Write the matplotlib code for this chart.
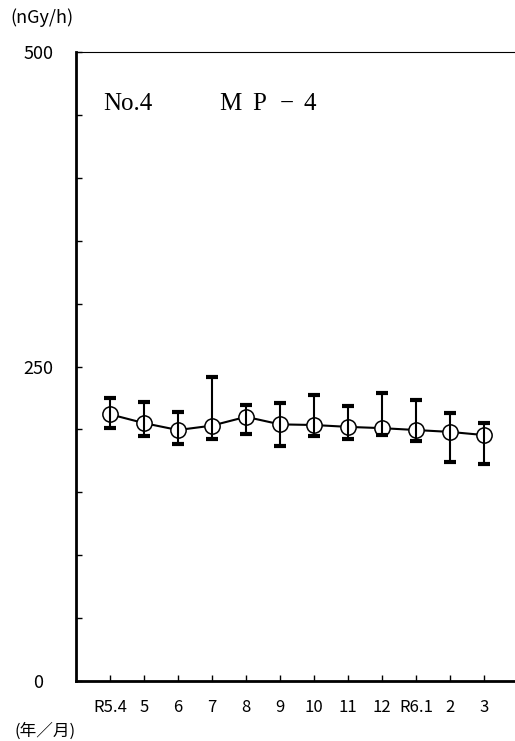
import matplotlib.pyplot as plt
import numpy as np

plt.rcParams['font.family'] = ['Noto Sans CJK JP', 'DejaVu Sans']

months = ["R5.4", "5", "6", "7", "8", "9", "10", "11", "12", "R6.1", "2", "3"]
mean_dose = [212, 205, 199.5, 203, 210, 204, 203.5, 202, 201, 199.5, 198, 195.5]
max_dose = [225, 222, 214, 242, 219, 221, 227, 218.5, 229, 223, 213, 205]
min_dose = [201, 195, 188, 192, 196, 187, 195, 192, 195.5, 191, 174, 172.5]

x = np.arange(1, len(months) + 1)
mean = np.array(mean_dose)
yerr = np.vstack([mean - np.array(min_dose), np.array(max_dose) - mean])

fig = plt.figure(figsize=(5.15, 7.41), dpi=100)
ax = fig.add_axes([76 / 515, 60 / 741, 442 / 515, 629 / 741])

ax.errorbar(x, mean, yerr=yerr, fmt="none", ecolor="black", elinewidth=1.5,
            capsize=4.5, capthick=3, zorder=4)
ax.plot(x, mean, "-o", color="black", lw=1.5, ms=11, mfc="white",
        mec="black", mew=1.1, zorder=3)

ax.set_xlim(0, 13)
ax.set_ylim(0, 500)

ax.set_yticks(np.arange(0, 501, 50))
ax.set_yticklabels(["0" if v == 0 else (str(v) if v in (250, 500) else "")
                    for v in range(0, 501, 50)], fontsize=13)
for lab in ax.get_yticklabels():
    lab.set_horizontalalignment("center")
ax.tick_params(axis="y", direction="in", length=4, width=1, pad=27)

ax.set_xticks(x)
ax.set_xticklabels(months, fontsize=12)
ax.tick_params(axis="x", direction="in", length=4, width=1, pad=13)

ax.spines["left"].set_linewidth(2)
ax.spines["bottom"].set_linewidth(2)
ax.spines["top"].set_linewidth(0.8)
ax.spines["right"].set_visible(False)

# station label: number, then the point name spaced out letter by letter
title_y = 1 - 104 / 741
fig.text(103 / 515, title_y, "No.4", fontsize=18, family="Liberation Serif",
         va="center", ha="left")
for ch, px in zip(["M", "P", "−", "4"], [230, 259, 287, 310]):
    fig.text(px / 515, title_y, ch, fontsize=18, family="Liberation Serif",
             va="center", ha="center")

fig.text(10 / 515, 1 - 18 / 741, "(nGy/h)", fontsize=13, va="center", ha="left")
fig.text(14 / 515, 1 - 731 / 741, "(年／月)", fontsize=12, va="center", ha="left")

fig.savefig("out.png", dpi=100)
